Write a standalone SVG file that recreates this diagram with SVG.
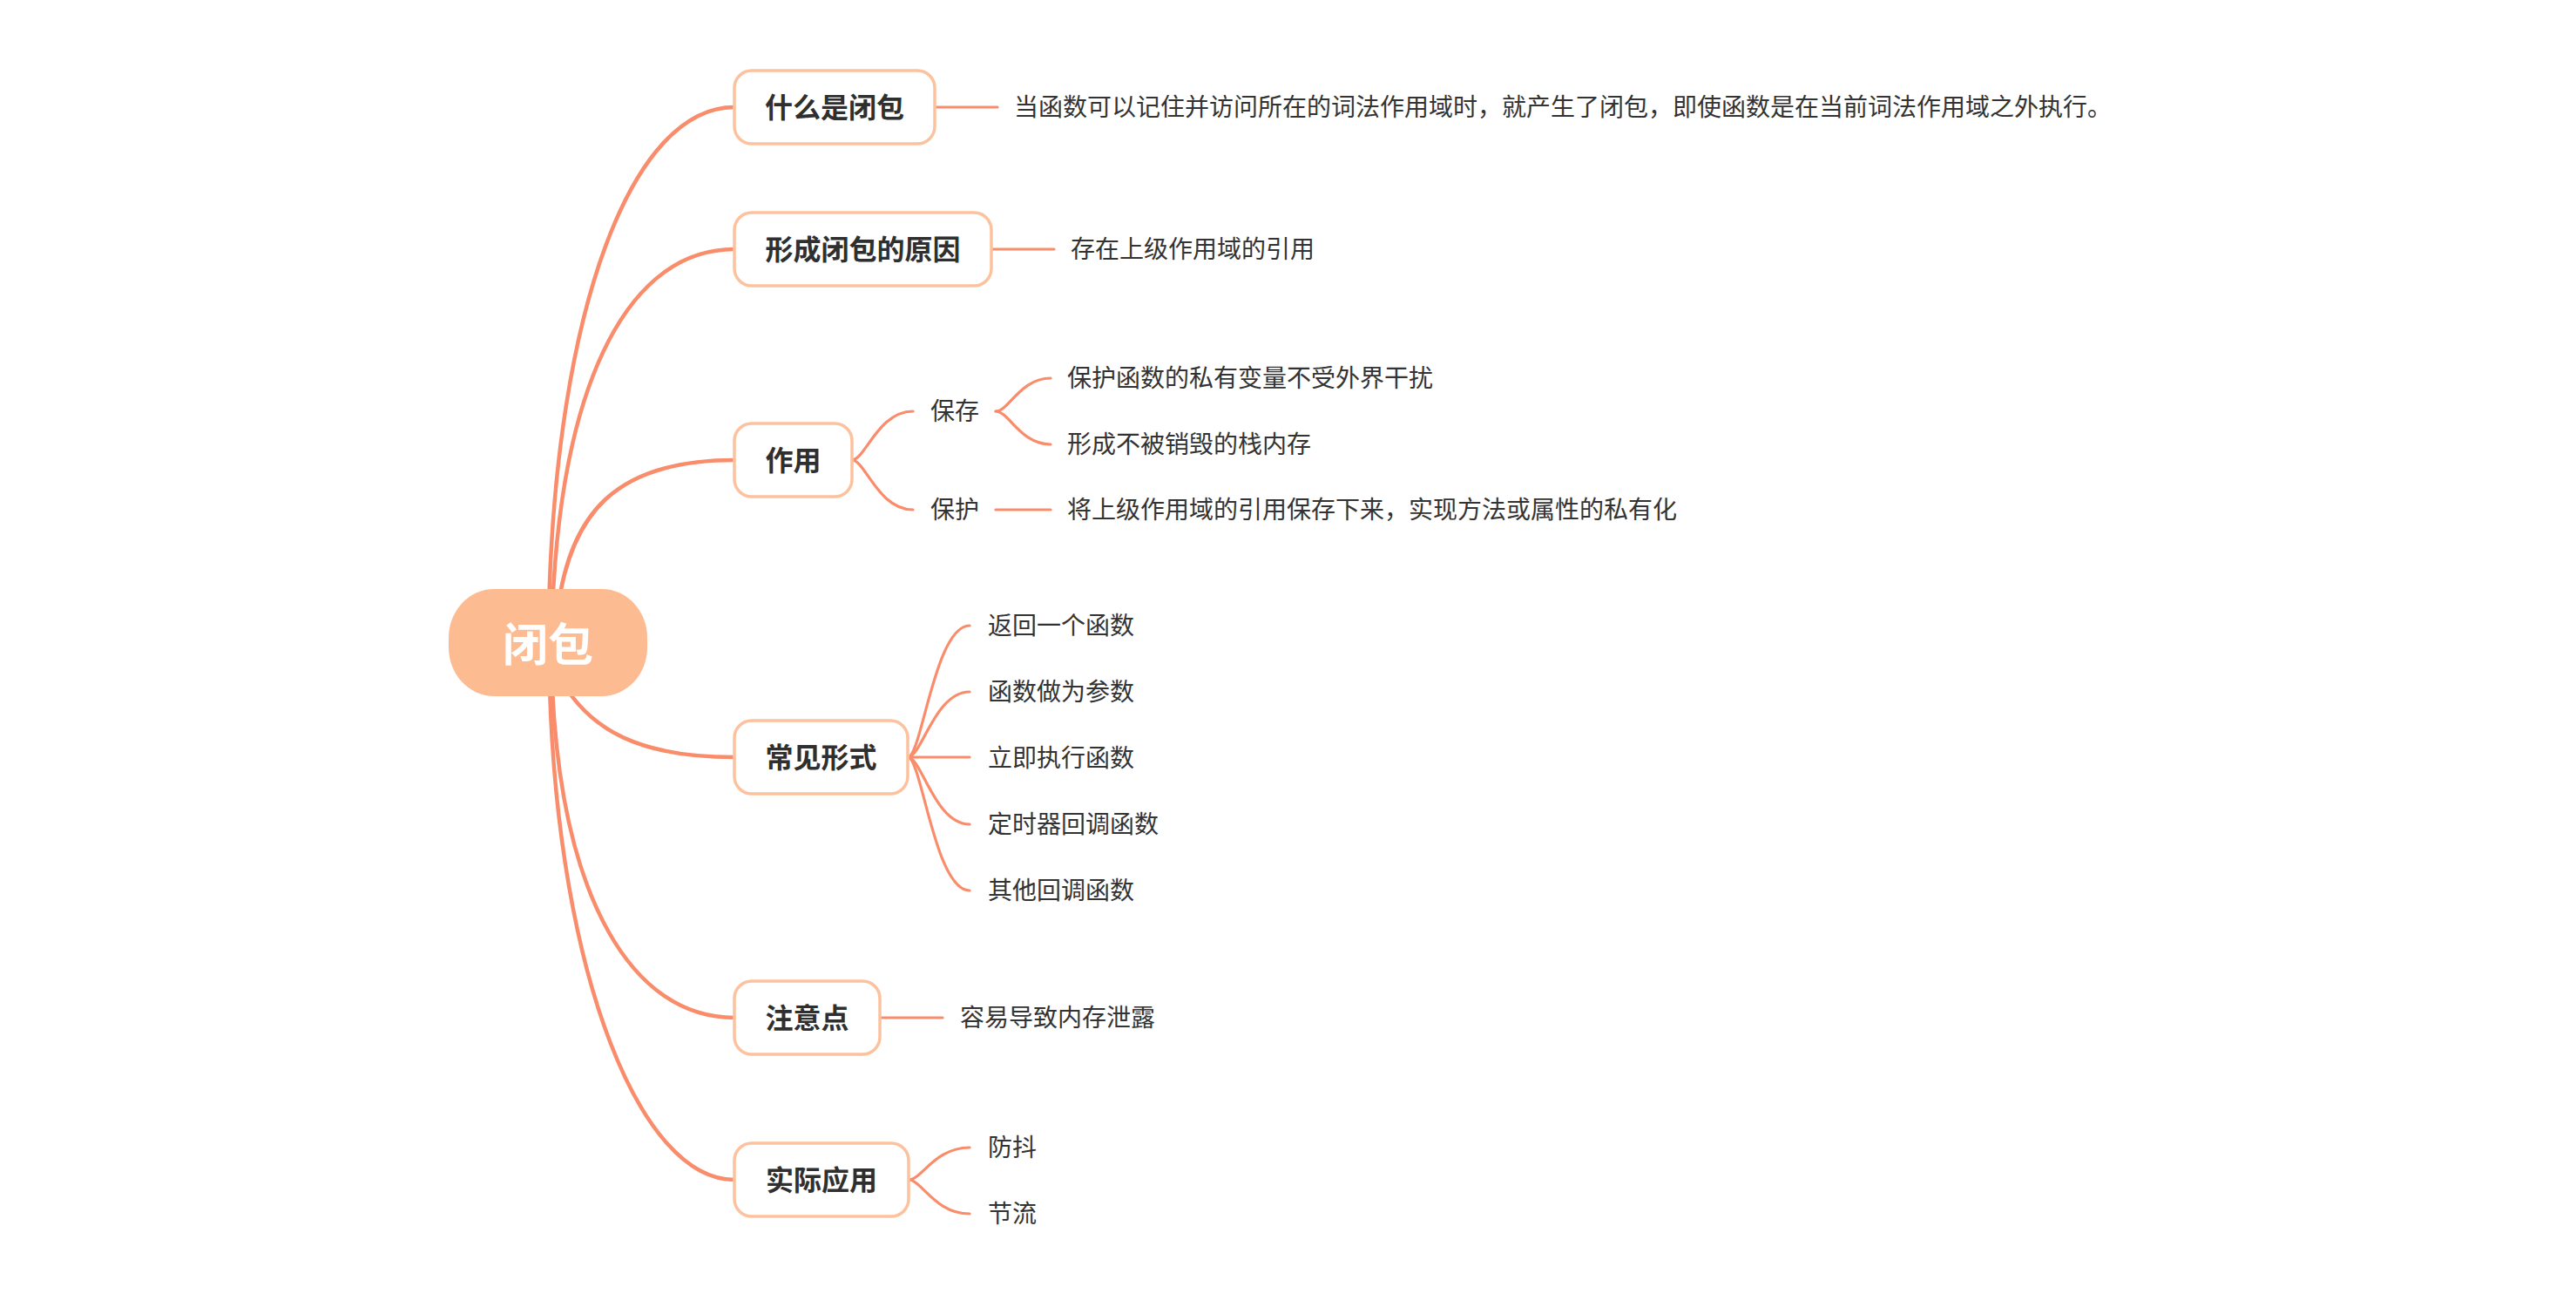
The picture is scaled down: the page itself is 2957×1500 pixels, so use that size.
<svg xmlns="http://www.w3.org/2000/svg" width="2957" height="1500" viewBox="0 0 2957 1500">
<style>
.main{fill:none;stroke:#F98C6B;stroke-width:4.5;stroke-linecap:round}
.sub{fill:none;stroke:#F98C6B;stroke-width:3.2;stroke-linecap:round}
.box{fill:#FFFFFF;stroke:#FCC29D;stroke-width:3.5}
.lbl{font-family:"Noto Sans CJK SC","Noto Sans",sans-serif;font-size:32px;font-weight:bold;fill:#2F2F2F;text-anchor:middle;dominant-baseline:central}
.leaf{font-family:"Noto Sans CJK SC","Noto Sans",sans-serif;font-size:28px;fill:#333333;dominant-baseline:central}
.root{font-family:"Noto Sans CJK SC","Noto Sans",sans-serif;font-size:52px;font-weight:bold;fill:#FFFFFF;text-anchor:middle;dominant-baseline:central}
</style>
<rect x="0" y="0" width="2957" height="1500" fill="#FFFFFF"/>
<g id="connectors">
<path class="main" d="M630,700 C638,355 725,123 843,123"/>
<path class="main" d="M634,700 C645,430 725,286 843,286"/>
<path class="main" d="M640,700 C655,590 705,528 843,528"/>
<path class="main" d="M650,790 C680,835 730,869 843,869"/>
<path class="main" d="M634,790 C645,1030 725,1168 843,1168"/>
<path class="main" d="M631,790 C641,1120 735,1354 843,1354"/>
<path class="sub" d="M1073,123 L1145,123"/>
<path class="sub" d="M1138,286 L1210,286"/>
<path class="sub" d="M978,528 C993,528 1008,472 1048,472"/>
<path class="sub" d="M978,528 C993,528 1008,585 1048,585"/>
<path class="sub" d="M1143,472 C1158,472 1171,434 1206,434"/>
<path class="sub" d="M1143,472 C1158,472 1171,510 1206,510"/>
<path class="sub" d="M1143,585 L1206,585"/>
<path class="sub" d="M1042,869 C1058,869 1073,718 1113,718"/>
<path class="sub" d="M1042,869 C1058,869 1073,794 1113,794"/>
<path class="sub" d="M1042,869 L1113,869"/>
<path class="sub" d="M1042,869 C1058,869 1073,946 1113,946"/>
<path class="sub" d="M1042,869 C1058,869 1073,1022 1113,1022"/>
<path class="sub" d="M1010,1168 L1082,1168"/>
<path class="sub" d="M1043,1354 C1058,1354 1073,1317 1113,1317"/>
<path class="sub" d="M1043,1354 C1058,1354 1073,1393 1113,1393"/>
</g>
<g id="root">
<rect x="515" y="676" width="228" height="123" rx="52" ry="56" fill="#FDBB92"/>
<text class="root" x="629" y="736">闭包</text>
</g>
<g id="node-what">
<rect class="box" x="843" y="81" width="230" height="84" rx="20"/>
<text class="lbl" x="958" y="121">什么是闭包</text>
<text class="leaf" x="1164" y="121">当函数可以记住并访问所在的词法作用域时，就产生了闭包，即使函数是在当前词法作用域之外执行。</text>
</g>
<g id="node-reason">
<rect class="box" x="843" y="244" width="295" height="84" rx="20"/>
<text class="lbl" x="990.5" y="284">形成闭包的原因</text>
<text class="leaf" x="1229" y="284">存在上级作用域的引用</text>
</g>
<g id="node-use">
<rect class="box" x="843" y="486" width="135" height="84" rx="20"/>
<text class="lbl" x="910.5" y="526">作用</text>
</g>
<g id="node-save">
<text class="leaf" x="1068" y="470">保存</text>
</g>
<g id="node-save-1"><text class="leaf" x="1225" y="432">保护函数的私有变量不受外界干扰</text></g>
<g id="node-save-2"><text class="leaf" x="1225" y="508">形成不被销毁的栈内存</text></g>
<g id="node-protect">
<text class="leaf" x="1068" y="583">保护</text>
</g>
<g id="node-protect-1"><text class="leaf" x="1225" y="583">将上级作用域的引用保存下来，实现方法或属性的私有化</text></g>
<g id="node-forms">
<rect class="box" x="843" y="827" width="199" height="84" rx="20"/>
<text class="lbl" x="942.5" y="867">常见形式</text>
</g>
<g id="node-form-1"><text class="leaf" x="1134" y="716">返回一个函数</text></g>
<g id="node-form-2"><text class="leaf" x="1134" y="792">函数做为参数</text></g>
<g id="node-form-3"><text class="leaf" x="1134" y="868">立即执行函数</text></g>
<g id="node-form-4"><text class="leaf" x="1134" y="944">定时器回调函数</text></g>
<g id="node-form-5"><text class="leaf" x="1134" y="1020">其他回调函数</text></g>
<g id="node-note">
<rect class="box" x="843" y="1126" width="167" height="84" rx="20"/>
<text class="lbl" x="926.5" y="1166">注意点</text>
<text class="leaf" x="1102" y="1166">容易导致内存泄露</text>
</g>
<g id="node-app">
<rect class="box" x="843" y="1312" width="200" height="84" rx="20"/>
<text class="lbl" x="943" y="1352">实际应用</text>
</g>
<g id="node-app-1"><text class="leaf" x="1134" y="1315">防抖</text></g>
<g id="node-app-2"><text class="leaf" x="1134" y="1391">节流</text></g>
</svg>
